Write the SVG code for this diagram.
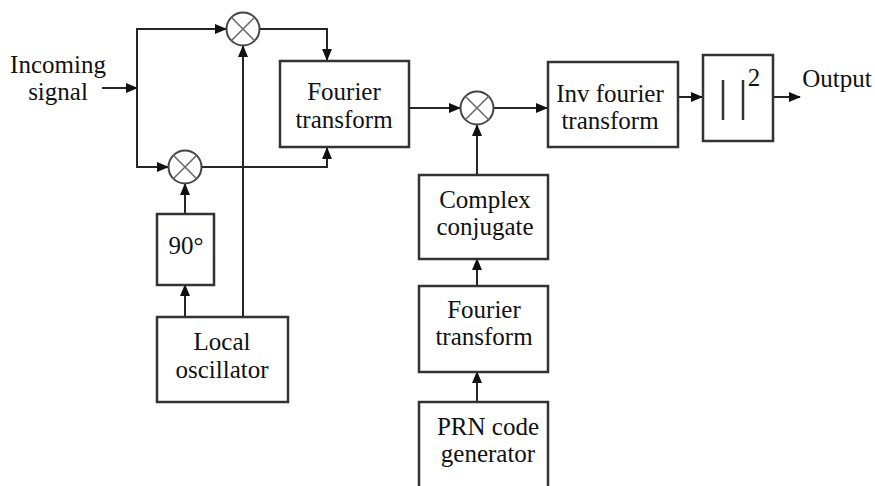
<svg xmlns="http://www.w3.org/2000/svg" width="875" height="486" viewBox="0 0 875 486">
  <style>
    .box { fill: #ffffff; stroke: #333333; stroke-width: 2.5; }
    .ln { fill: none; stroke: #262626; stroke-width: 2; }
    .mix { fill: #ffffff; stroke: #444444; stroke-width: 2; }
    .x { stroke: #6a6a6a; stroke-width: 1.6; }
    .t { font-family: 'Liberation Serif', 'DejaVu Serif', serif; font-size: 25px; fill: #111111; text-anchor: middle; }
    .bar { stroke: #333333; stroke-width: 2.5; }
  </style>
  <defs>
    <marker id="ah" markerUnits="userSpaceOnUse" markerWidth="12" markerHeight="10" refX="11" refY="5" orient="auto">
      <path d="M0,0 L12,5 L0,10 Z" fill="#111111"/>
    </marker>
  </defs>
  <rect width="875" height="486" fill="#ffffff"/>

  <g id="connectors">
    <line class="ln" x1="102" y1="88" x2="137" y2="88" marker-end="url(#ah)"/>
    <polyline class="ln" points="137,88 137,29 226,29" marker-end="url(#ah)"/>
    <polyline class="ln" points="137,88 137,167 168,167" marker-end="url(#ah)"/>
    <line class="ln" x1="243" y1="317" x2="243" y2="46" marker-end="url(#ah)"/>
    <line class="ln" x1="185" y1="214" x2="185" y2="184" marker-end="url(#ah)"/>
    <line class="ln" x1="185" y1="317" x2="185" y2="285" marker-end="url(#ah)"/>
    <polyline class="ln" points="260,29 327,29 327,60" marker-end="url(#ah)"/>
    <polyline class="ln" points="202,167 327,167 327,148" marker-end="url(#ah)"/>
    <line class="ln" x1="409" y1="108" x2="460" y2="108" marker-end="url(#ah)"/>
    <line class="ln" x1="494" y1="108" x2="547" y2="108" marker-end="url(#ah)"/>
    <line class="ln" x1="477" y1="175" x2="477" y2="125" marker-end="url(#ah)"/>
    <line class="ln" x1="477" y1="286" x2="477" y2="259" marker-end="url(#ah)"/>
    <line class="ln" x1="477" y1="402" x2="477" y2="372" marker-end="url(#ah)"/>
    <line class="ln" x1="678" y1="97" x2="702" y2="97" marker-end="url(#ah)"/>
    <line class="ln" x1="773" y1="97" x2="800" y2="97" marker-end="url(#ah)"/>
  </g>

  <g id="input-label">
    <text class="t" x="58" y="73">Incoming</text>
    <text class="t" x="58" y="100">signal</text>
  </g>

  <g id="mixer-top">
    <circle class="mix" cx="243" cy="29" r="16.5"/>
    <line class="x" x1="231.3" y1="17.3" x2="254.7" y2="40.7"/>
    <line class="x" x1="254.7" y1="17.3" x2="231.3" y2="40.7"/>
  </g>

  <g id="mixer-bottom">
    <circle class="mix" cx="185" cy="167" r="16.5"/>
    <line class="x" x1="173.3" y1="155.3" x2="196.7" y2="178.7"/>
    <line class="x" x1="196.7" y1="155.3" x2="173.3" y2="178.7"/>
  </g>

  <g id="mixer-mid">
    <circle class="mix" cx="477" cy="108" r="16.5"/>
    <line class="x" x1="465.3" y1="96.3" x2="488.7" y2="119.7"/>
    <line class="x" x1="488.7" y1="96.3" x2="465.3" y2="119.7"/>
  </g>

  <g id="phase90">
    <rect class="box" x="157" y="214" width="57" height="71"/>
    <text class="t" x="186" y="254">90°</text>
  </g>

  <g id="local-oscillator">
    <rect class="box" x="157" y="317" width="131" height="85"/>
    <text class="t" x="222" y="350">Local</text>
    <text class="t" x="222" y="378">oscillator</text>
  </g>

  <g id="fourier1">
    <rect class="box" x="280" y="61" width="129" height="86"/>
    <text class="t" x="344" y="100">Fourier</text>
    <text class="t" x="344" y="128">transform</text>
  </g>

  <g id="complex-conjugate">
    <rect class="box" x="419" y="175" width="129" height="84"/>
    <text class="t" x="485" y="208">Complex</text>
    <text class="t" x="485" y="235">conjugate</text>
  </g>

  <g id="fourier2">
    <rect class="box" x="419" y="286" width="129" height="86"/>
    <text class="t" x="484" y="318">Fourier</text>
    <text class="t" x="484" y="345">transform</text>
  </g>

  <g id="prn">
    <rect class="box" x="419" y="402" width="129" height="90"/>
    <text class="t" x="488" y="435">PRN code</text>
    <text class="t" x="488" y="462">generator</text>
  </g>

  <g id="inv-fourier">
    <rect class="box" x="548" y="62" width="130" height="85"/>
    <text class="t" x="610" y="102">Inv fourier</text>
    <text class="t" x="610" y="129">transform</text>
  </g>

  <g id="abs-square">
    <rect class="box" x="703" y="55" width="70" height="86"/>
    <line class="bar" x1="723" y1="80" x2="723" y2="120"/>
    <line class="bar" x1="743" y1="80" x2="743" y2="120"/>
    <text class="t" x="754" y="86" style="font-size:25px">2</text>
  </g>

  <g id="output-label">
    <text class="t" x="837" y="87">Output</text>
  </g>
</svg>
